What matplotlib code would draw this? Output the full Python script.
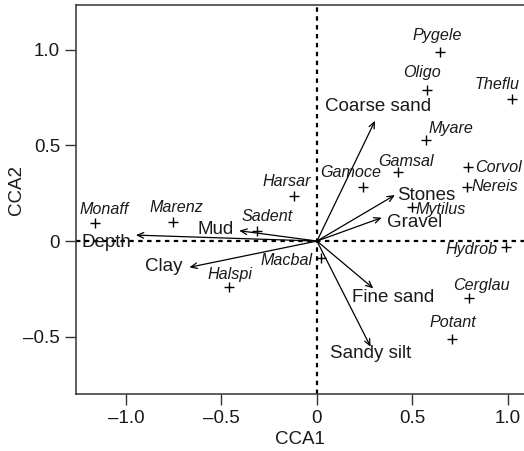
import matplotlib
matplotlib.use("Agg")
import matplotlib.pyplot as plt
from matplotlib.ticker import FixedLocator, FixedFormatter

plt.rcParams['font.family'] = ['Liberation Sans', 'DejaVu Sans']

# species scores (CCA1, CCA2)
species = ['Pygele', 'Oligo', 'Theflu', 'Myare', 'Gamsal', 'Corvol', 'Nereis',
           'Gamoce', 'Harsar', 'Mytilus', 'Monaff', 'Marenz', 'Sadent',
           'Hydrob', 'Macbal', 'Halspi', 'Cerglau', 'Potant']
sp_cca1 = [0.644, 0.578, 1.019, 0.569, 0.422, 0.792, 0.787,
           0.243, -0.119, 0.496, -1.162, -0.756, -0.312,
           0.988, 0.021, -0.459, 0.798, 0.709]
sp_cca2 = [0.985, 0.789, 0.742, 0.527, 0.359, 0.388, 0.284,
           0.280, 0.237, 0.179, 0.096, 0.101, 0.052,
           -0.030, -0.090, -0.242, -0.296, -0.513]

# environmental variable arrows (CCA1, CCA2)
env = ['Coarse sand', 'Stones', 'Gravel', 'Mud', 'Depth', 'Clay',
       'Fine sand', 'Sandy silt']
env_cca1 = [0.304, 0.408, 0.339, -0.407, -0.948, -0.668, 0.295, 0.281]
env_cca2 = [0.628, 0.240, 0.122, 0.054, 0.031, -0.137, -0.247, -0.552]

tick_vals = [-1.0, -0.5, 0, 0.5, 1.0]
x_ticklabels = ['\u20131.0', '\u20130.5', '0', '0.5', '1.0']
y_ticks = [-0.5, 0, 0.5, 1.0]
y_ticklabels = ['\u20130.5', '0', '0.5', '1.0']

# label placement: (dx px, dy px, ha)
sp_pos = {
    'Pygele': (-3, 17, 'center'), 'Oligo': (-5, 17, 'center'),
    'Theflu': (-15, 14, 'center'), 'Myare': (3, 12, 'left'),
    'Gamsal': (8, 11, 'center'), 'Corvol': (7, -1, 'left'),
    'Nereis': (4, 0, 'left'), 'Gamoce': (-13, 15, 'center'),
    'Harsar': (-7, 14, 'center'), 'Mytilus': (4, -3, 'left'),
    'Monaff': (9, 13, 'center'), 'Marenz': (4, 14, 'center'),
    'Sadent': (10, 15, 'center'), 'Hydrob': (-8, -3, 'right'),
    'Macbal': (-8, -2, 'right'), 'Halspi': (1, 13, 'center'),
    'Cerglau': (12, 12, 'center'), 'Potant': (0, 17, 'center'),
}
env_pos = {
    'Coarse sand': (-50, 14, 'left'), 'Stones': (2, 0, 'left'),
    'Gravel': (5, -5, 'left'), 'Mud': (-5, 1, 'right'),
    'Depth': (-5, -7, 'right'), 'Clay': (-7, 1, 'right'),
    'Fine sand': (-21, -9, 'left'), 'Sandy silt': (-41, -7, 'left'),
}

W, H = 524, 451
fig = plt.figure(figsize=(W / 100, H / 100), dpi=100)
ax = fig.add_axes([76.3 / W, 1 - 393.7 / H, (W - 76.3) / W, (393.7 - 4.7) / H])
ax.set_xlim(-1.26, 1.084)
ax.set_ylim(-0.797, 1.234)

ax.axhline(0, color='black', lw=1.6, ls=(0, (2, 2)), zorder=1)
ax.axvline(0, color='black', lw=1.6, ls=(0, (2, 2)), zorder=1)

for name, x, y in zip(env, env_cca1, env_cca2):
    ax.annotate('', xy=(x, y), xytext=(0, 0),
                arrowprops=dict(arrowstyle='->,head_length=0.45,head_width=0.2',
                                color='black', lw=0.9, shrinkA=0, shrinkB=0))
    dx, dy, ha = env_pos[name]
    ax.annotate(name, (x, y), xytext=(dx, dy), textcoords='offset pixels',
                ha=ha, va='center', fontsize=13.5, color='#1a1a1a')

ax.plot(sp_cca1, sp_cca2, '+', color='black', ms=7, mew=1.0, ls='none')
for name, x, y in zip(species, sp_cca1, sp_cca2):
    dx, dy, ha = sp_pos[name]
    ax.annotate(name, (x, y), xytext=(dx, dy), textcoords='offset pixels',
                ha=ha, va='center', fontsize=11.6, style='italic', color='#1a1a1a')

ax.xaxis.set_major_locator(FixedLocator(tick_vals))
ax.xaxis.set_major_formatter(FixedFormatter(x_ticklabels))
ax.yaxis.set_major_locator(FixedLocator(y_ticks))
ax.yaxis.set_major_formatter(FixedFormatter(y_ticklabels))
ax.tick_params(direction='out', length=7.7, width=1.0, labelsize=13.5,
               pad=4, colors='#333333', labelcolor='#1a1a1a')
for s in ['left', 'bottom', 'top']:
    ax.spines[s].set_linewidth(1.1)
    ax.spines[s].set_color('#333333')
ax.spines['right'].set_visible(False)

ax.set_xlabel('CCA1', fontsize=13.5, labelpad=3, color='#1a1a1a')
ax.set_ylabel('CCA2', fontsize=13.5, color='#1a1a1a')
ax.yaxis.set_label_coords(-0.115, 0.524)

fig.savefig('out.png', dpi=100)
